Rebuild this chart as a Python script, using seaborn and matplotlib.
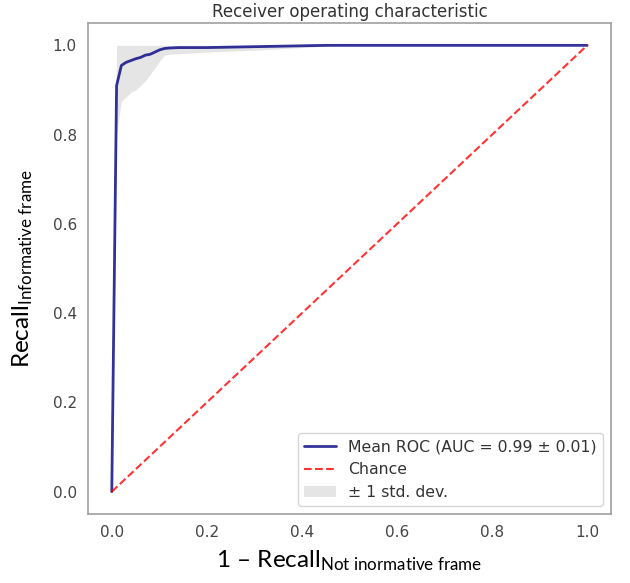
import matplotlib
matplotlib.use("Agg")
import matplotlib.pyplot as plt
import seaborn as sns
import numpy as np
import pandas as pd

# ---- data ----
mean_fpr = [0.0, 0.0101, 0.0202, 0.0303, 0.0404, 0.0505, 0.0606, 0.0707, 0.0808,
            0.0909, 0.101, 0.111, 0.121, 0.141, 0.2, 0.3, 0.4, 0.45, 0.5, 1.0]
mean_tpr = [0.0, 0.91, 0.955, 0.962, 0.966, 0.970, 0.973, 0.978, 0.980,
            0.985, 0.990, 0.993, 0.994, 0.995, 0.995, 0.997, 0.999, 1.0, 1.0, 1.0]
std_tpr = [0.0, 0.11, 0.08, 0.077, 0.071, 0.07, 0.063, 0.058, 0.045,
           0.035, 0.025, 0.015, 0.014, 0.014, 0.01, 0.008, 0.004, 0.002, 0.0, 0.0]
chance_x = [0.0, 1.0]
chance_y = [0.0, 1.0]
ticks = [0.0, 0.2, 0.4, 0.6, 0.8, 1.0]
tick_labels = ["0.0", "0.2", "0.4", "0.6", "0.8", "1.0"]
mean_auc, std_auc = 0.99, 0.01

sns.set_style("whitegrid")
plt.rcParams["font.family"] = ["DejaVu Sans"]
plt.rcParams["mathtext.fontset"] = "custom"
plt.rcParams["mathtext.rm"] = "Lato"
plt.rcParams["mathtext.it"] = "Lato:italic"

fig = plt.figure(figsize=(6.3, 5.83), dpi=100)
ax = fig.add_axes([0.1397, 0.1184, 0.8301, 0.8421])

df = pd.DataFrame({"fpr": mean_fpr, "tpr": mean_tpr, "std": std_tpr})
upper = np.minimum(df["tpr"] + df["std"], 1)
lower = np.maximum(df["tpr"] - df["std"], 0)

sns.lineplot(data=df, x="fpr", y="tpr", ax=ax, color="navy", lw=2, alpha=0.8,
             sort=False, estimator=None,
             label="Mean ROC (AUC = %0.2f \u00b1 %0.2f)" % (mean_auc, std_auc))
sns.lineplot(x=chance_x, y=chance_y, ax=ax, color="r", lw=1.5, alpha=0.8,
             linestyle="--", label="Chance")
ax.fill_between(df["fpr"], lower, upper, color="grey", alpha=0.2,
                lw=0, label="\u00b1 1 std. dev.")

ax.set_xlim(-0.05, 1.05)
ax.set_ylim(-0.05, 1.05)
ax.set_xticks(ticks)
ax.set_xticklabels(tick_labels)
ax.set_yticks(ticks)
ax.set_yticklabels(tick_labels)
ax.grid(False)
ax.tick_params(axis="both", labelsize=11, labelcolor="#444444", length=0, pad=8)
for sp in ax.spines.values():
    sp.set_color("#a0a0a0")
    sp.set_linewidth(1.2)

ax.set_title("Receiver operating characteristic", fontsize=12, color="#333333", pad=4)
ax.set_xlabel(r"$\mathrm{1\ –\ Recall}_{\mathrm{Not\ inormative\ frame}}$",
              fontsize=17.5, color="black", labelpad=6)
ax.set_ylabel(r"$\mathrm{Recall}_{\mathrm{Informative\ frame}}$",
              fontsize=17.5, color="black", labelpad=13)

leg = ax.legend(loc="lower right", fontsize=11.3)
for t in leg.get_texts():
    t.set_color("#333333")

fig.savefig("out.png", dpi=100)
